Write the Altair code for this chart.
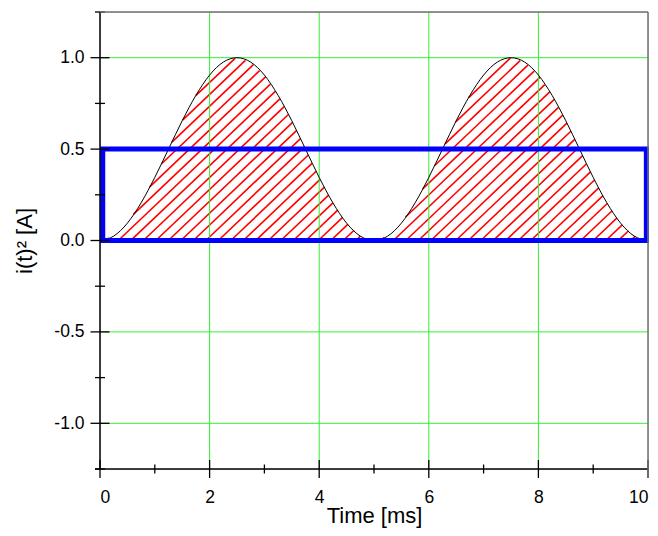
import numpy as np
import pandas as pd
import altair as alt

# ---- data ----
T = [0.0, 0.25, 0.5, 0.75, 1.0, 1.25, 1.5, 1.75, 2.0, 2.25, 2.5, 2.75, 3.0, 3.25, 3.5, 3.75,
     4.0, 4.25, 4.5, 4.75, 5.0, 5.25, 5.5, 5.75, 6.0, 6.25, 6.5, 6.75, 7.0, 7.25, 7.5, 7.75,
     8.0, 8.25, 8.5, 8.75, 9.0, 9.25, 9.5, 9.75, 10.0]
I2 = [0.0, 0.024, 0.095, 0.206, 0.345, 0.5, 0.655, 0.794, 0.905, 0.976, 1.0, 0.976, 0.905,
      0.794, 0.655, 0.5, 0.345, 0.206, 0.095, 0.024, 0.0, 0.024, 0.095, 0.206, 0.345, 0.5,
      0.655, 0.794, 0.905, 0.976, 1.0, 0.976, 0.905, 0.794, 0.655, 0.5, 0.345, 0.206, 0.095,
      0.024, 0.0]

X_TICKS = [0, 2, 4, 6, 8, 10]
X_MINOR = [1, 3, 5, 7, 9]
Y_TICKS = [-1.0, -0.5, 0.0, 0.5, 1.0]
Y_MINOR = [-1.25, -0.75, -0.25, 0.25, 0.75, 1.25]
X_GRID = [2, 4, 6, 8]
Y_GRID = [-1.0, -0.5, 0.0, 0.5, 1.0]
RECT_T = [0.05]
RECT_T2 = [9.97]
RECT_V = [0.0]
RECT_V2 = [0.5]

W, H = 548, 457
X_DOM = [0, 10]
Y_DOM = [-1.25, 1.25]

# ---- hatch segments clipped to the area under the curve ----
slope_px = 0.95
spacing_px = 12.5
m = slope_px * (W / (X_DOM[1] - X_DOM[0])) / (H / (Y_DOM[1] - Y_DOM[0]))
dt0 = spacing_px / (W / (X_DOM[1] - X_DOM[0]))
tt = np.linspace(0, 10, 10001)
ff = np.interp(tt, T, I2)
segs = []
for t0 in np.arange(-4.0, 10.0, dt0):
    yl = m * (tt - t0)
    inside = (yl >= 0) & (yl <= ff)
    d = np.diff(np.concatenate([[0], inside.astype(int), [0]]))
    starts = np.where(d == 1)[0]
    ends = np.where(d == -1)[0] - 1
    for a, b in zip(starts, ends):
        if b - a < 8:
            continue
        segs.append({"t": tt[a], "v": yl[a], "t2": tt[b], "v2": yl[b]})
hatch_df = pd.DataFrame(segs)

curve_df = pd.DataFrame({"t": T, "v": I2})

xs = alt.Scale(domain=X_DOM, nice=False, zero=False)
ys = alt.Scale(domain=Y_DOM, nice=False, zero=False)
FONT = "Liberation Sans"
GREEN = "#33f033"

xax = alt.Axis(values=X_TICKS, format="d", domain=False, ticks=False, grid=False,
               labelFontSize=17.5, labelFont=FONT, labelColor="black", labelPadding=19,
               title="Time [ms]", titleFont=FONT, titleFontSize=22, titleFontWeight="normal",
               titleColor="black", titleX=W / 2, titleY=53, titleBaseline="alphabetic",
               titleAlign="center")
yax = alt.Axis(values=Y_TICKS, format=".1f", domain=False, ticks=False, grid=False,
               labelExpr="replace(format(datum.value, '.1f'), '\u2212', '-')",
               labelFontSize=17.5, labelFont=FONT, labelColor="black", labelPadding=16,
               title="i(t)² [A]", titleFont=FONT, titleFontSize=22, titleFontWeight="normal",
               titleColor="black", titleX=-69, titleY=H / 2, titleAngle=270,
               titleBaseline="alphabetic", titleAlign="center")


def X(f="t"):
    return alt.X(f"{f}:Q", scale=xs, axis=xax)


def Y(f="v"):
    return alt.Y(f"{f}:Q", scale=ys, axis=yax)


hatch = alt.Chart(hatch_df).mark_rule(color="#ff0000", strokeWidth=1.6).encode(
    x=X(), y=Y(), x2="t2:Q", y2="v2:Q")

vgrid = alt.Chart(pd.DataFrame({"t": X_GRID})).mark_rule(color=GREEN, strokeWidth=1).encode(
    x=X(), y=alt.value(0), y2=alt.value(H))
hgrid = alt.Chart(pd.DataFrame({"v": Y_GRID})).mark_rule(color=GREEN, strokeWidth=1).encode(
    y=Y(), x=alt.value(0), x2=alt.value(W))

curve = alt.Chart(curve_df).mark_line(color="black", strokeWidth=1, interpolate="monotone").encode(
    x=X(), y=Y())

rect = alt.Chart(pd.DataFrame({"t": RECT_T, "t2": RECT_T2, "v": RECT_V, "v2": RECT_V2})).mark_rect(
    fillOpacity=0, stroke="#0000ff", strokeWidth=5).encode(x=X(), x2="t2:Q", y=Y(), y2="v2:Q")

one = pd.DataFrame({"a": [0]})
frame_top = alt.Chart(one).mark_rule(color="#707070", strokeWidth=1.5).encode(
    x=alt.value(0), x2=alt.value(W), y=alt.value(0))
frame_right = alt.Chart(one).mark_rule(color="#707070", strokeWidth=1.5).encode(
    x=alt.value(W), y=alt.value(0), y2=alt.value(H + 9))
axis_left = alt.Chart(one).mark_rule(color="black", strokeWidth=1.5).encode(
    x=alt.value(0), y=alt.value(0), y2=alt.value(H))
axis_bottom = alt.Chart(one).mark_rule(color="black", strokeWidth=1.5).encode(
    x=alt.value(-5), x2=alt.value(W), y=alt.value(H))

xt_major = alt.Chart(pd.DataFrame({"t": X_TICKS})).mark_rule(color="black", strokeWidth=1.3).encode(
    x=X(), y=alt.value(H - 9), y2=alt.value(H + 9))
xt_minor = alt.Chart(pd.DataFrame({"t": X_MINOR})).mark_rule(color="black", strokeWidth=1.3).encode(
    x=X(), y=alt.value(H - 4.5), y2=alt.value(H + 4.5))
yt_major = alt.Chart(pd.DataFrame({"v": Y_TICKS})).mark_rule(color="black", strokeWidth=1.3).encode(
    y=Y(), x=alt.value(-9.5), x2=alt.value(9.5))
yt_minor = alt.Chart(pd.DataFrame({"v": Y_MINOR})).mark_rule(color="black", strokeWidth=1.3).encode(
    y=Y(), x=alt.value(-5), x2=alt.value(5))

chart = alt.layer(
    hatch, vgrid, hgrid, curve, rect, xt_major, xt_minor, yt_major, yt_minor,
    axis_left, axis_bottom, frame_top, frame_right,
).properties(
    width=W, height=H,
    autosize=alt.AutoSizeParams(type="none"),
    padding={"left": 92, "top": 4, "right": 2, "bottom": 59},
).configure_view(stroke=None).configure(background="white")

chart.save("out.html", embed_options={"renderer": "svg", "actions": False})
